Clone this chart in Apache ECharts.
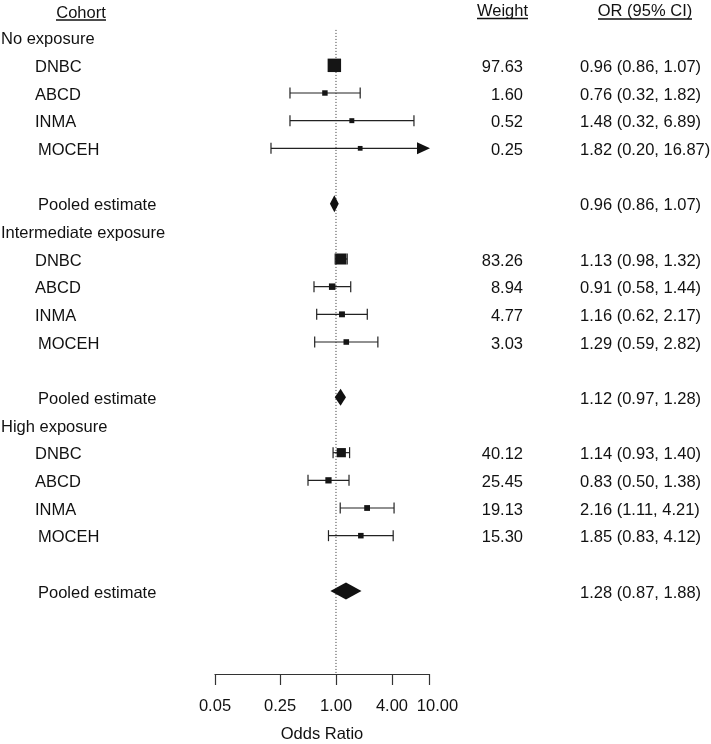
<!DOCTYPE html>
<html>
<head>
<meta charset="utf-8">
<script src="https://cdn.jsdelivr.net/npm/echarts@6/dist/echarts.min.js"></script>
<style>html,body{margin:0;padding:0;background:#fff}#c{width:711px;height:744px}</style>
</head>
<body>
<div id="c"></div>
<script>
// ---- data ----
const groups = ['No exposure', 'Intermediate exposure', 'High exposure'];
const cohorts = ['DNBC', 'ABCD', 'INMA', 'MOCEH'];
const weights = [[97.63, 1.60, 0.52, 0.25], [83.26, 8.94, 4.77, 3.03], [40.12, 25.45, 19.13, 15.30]];
const orValues = [[0.96, 0.76, 1.48, 1.82], [1.13, 0.91, 1.16, 1.29], [1.14, 0.83, 2.16, 1.85]];
const ciLow = [[0.86, 0.32, 0.32, 0.20], [0.98, 0.58, 0.62, 0.59], [0.93, 0.50, 1.11, 0.83]];
const ciHigh = [[1.07, 1.82, 6.89, 16.87], [1.32, 1.44, 2.17, 2.82], [1.40, 1.38, 4.21, 4.12]];
const pooledLabel = 'Pooled estimate';
const pooledOR = [0.96, 1.12, 1.28];
const pooledLow = [0.86, 0.97, 0.87];
const pooledHigh = [1.07, 1.28, 1.88];
const tickValues = [0.05, 0.25, 1, 4, 10];
const tickLabels = ['0.05', '0.25', '1.00', '4.00', '10.00'];
const headers = ['Cohort', 'Weight', 'OR (95% CI)'];
const axisTitle = 'Odds Ratio';

// ---- build ----
const L = Math.log10;
const XMIN = L(tickValues[0]), XMAX = L(tickValues[tickValues.length - 1]);
const FONT = "'Liberation Sans', Arial, Helvetica, sans-serif";
const FS = 16.5;
const TXT = '#111';
const fmt = v => v.toFixed(2);

const textRows = []; // {row, text, kind}
const whiskers = [];
const squares = [];
const diamonds = [];
groups.forEach((g, gi) => {
  const base = 1 + gi * 7;
  textRows.push({ row: base, text: g, kind: 'group' });
  cohorts.forEach((c, ci) => {
    const r = base + 1 + ci;
    textRows.push({ row: r, text: c, kind: c === 'MOCEH' ? 'cohort2' : 'cohort' });
    textRows.push({ row: r, text: fmt(weights[gi][ci]), kind: 'weight' });
    textRows.push({ row: r, text: fmt(orValues[gi][ci]) + ' (' + fmt(ciLow[gi][ci]) + ', ' + fmt(ciHigh[gi][ci]) + ')', kind: 'or' });
    whiskers.push([L(ciLow[gi][ci]), L(ciHigh[gi][ci]), r]);
    squares.push([L(orValues[gi][ci]), r, ciLow[gi][ci], ciHigh[gi][ci]]);
  });
  const pr = base + 6;
  textRows.push({ row: pr, text: pooledLabel, kind: 'pooled' });
  textRows.push({ row: pr, text: fmt(pooledOR[gi]) + ' (' + fmt(pooledLow[gi]) + ', ' + fmt(pooledHigh[gi]) + ')', kind: 'or' });
  diamonds.push([L(pooledLow[gi]), L(pooledOR[gi]), L(pooledHigh[gi]), pr]);
});

const textX = { group: [1, 'left'], cohort: [35, 'left'], cohort2: [38, 'left'], pooled: [38, 'left'], weight: [523, 'right'], or: [580, 'left'] };
const TEXT_DY = 2;

const chart = echarts.init(document.getElementById('c'), null, { renderer: 'canvas' });
const option = {
  backgroundColor: '#fff',
  animation: false,
  textStyle: { fontFamily: FONT },
  grid: { left: 215, right: 282, top: 10, bottom: 70, containLabel: false, outerBoundsMode: 'none' },
  xAxis: {
    type: 'value', min: XMIN, max: XMAX, position: 'bottom',
    axisLine: { show: true, onZero: false, lineStyle: { color: '#333', width: 1.2 } },
    axisTick: { show: true, length: 11, inside: false, customValues: tickValues.map(L), lineStyle: { color: '#333', width: 1.2 } },
    axisLabel: {
      customValues: tickValues.map(L), margin: 24, color: TXT, fontSize: FS, fontFamily: FONT,
      formatter: v => {
        const i = tickValues.findIndex(t => Math.abs(L(t) - v) < 1e-6);
        if (i < 0) return '';
        return i === tickValues.length - 1 ? '{r|' + tickLabels[i] + '}' : '{n|' + tickLabels[i] + '}';
      },
      rich: {
        n: { fontSize: FS, fontFamily: FONT, color: TXT },
        r: { fontSize: FS, fontFamily: FONT, color: TXT, padding: [0, 0, 0, 17] }
      }
    },
    splitLine: { show: false },
    name: axisTitle, nameLocation: 'middle', nameGap: 52,
    nameTextStyle: { fontSize: FS, fontFamily: FONT, color: TXT }
  },
  yAxis: { type: 'value', inverse: true, min: 0, max: 24, show: false },
  series: [
    {
      type: 'line', data: [[0, 0.72], [0, 24]], symbol: 'none', silent: true,
      lineStyle: { color: '#333', width: 1, type: [1, 2] }, z: 1
    },
    {
      type: 'custom', data: whiskers, encode: { x: [0, 1], y: 2 }, z: 2,
      renderItem: (params, api) => {
        const lo = api.value(0), hi = api.value(1), r = api.value(2);
        const p1 = api.coord([Math.max(lo, XMIN), r]);
        const clipped = hi > XMAX;
        const p2 = api.coord([Math.min(hi, XMAX), r]);
        const st = { stroke: '#222', lineWidth: 1.2 };
        const ch = [];
        const endX = clipped ? p2[0] - 12 : p2[0];
        ch.push({ type: 'line', shape: { x1: p1[0], y1: p1[1], x2: endX, y2: p2[1] }, style: st });
        ch.push({ type: 'line', shape: { x1: p1[0], y1: p1[1] - 5.5, x2: p1[0], y2: p1[1] + 5.5 }, style: st });
        if (clipped) {
          ch.push({ type: 'polygon', shape: { points: [[p2[0] + 1, p2[1]], [p2[0] - 12, p2[1] - 6], [p2[0] - 12, p2[1] + 6]] }, style: { fill: '#111' } });
        } else {
          ch.push({ type: 'line', shape: { x1: p2[0], y1: p2[1] - 5.5, x2: p2[0], y2: p2[1] + 5.5 }, style: st });
        }
        return { type: 'group', children: ch };
      }
    },
    {
      type: 'scatter', data: squares, encode: { x: 0, y: 1 }, symbol: 'rect', z: 3,
      symbolSize: v => 4.3 + 2 / Math.log(v[3] / v[2]),
      itemStyle: { color: '#151515', opacity: 1 }
    },
    {
      type: 'custom', data: diamonds, encode: { x: [0, 2], y: 3 }, z: 3,
      renderItem: (params, api) => {
        const r = api.value(3);
        const a = api.coord([api.value(0), r]), m = api.coord([api.value(1), r]), b = api.coord([api.value(2), r]);
        return { type: 'polygon', shape: { points: [[a[0], a[1]], [m[0], m[1] - 8.5], [b[0], b[1]], [m[0], m[1] + 8.5]] }, style: { fill: '#111' } };
      }
    },
    {
      type: 'custom', data: textRows.map(t => [XMIN, t.row]), encode: { x: 0, y: 1 }, z: 4, clip: false,
      renderItem: (params, api) => {
        const t = textRows[params.dataIndex];
        const y = api.coord([XMIN, api.value(1)])[1] + TEXT_DY;
        const [x, al] = textX[t.kind];
        return { type: 'text', x: x, y: y, style: { text: t.text, fill: TXT, font: FS + 'px ' + FONT, align: al, verticalAlign: 'middle' } };
      }
    }
  ],
  graphic: [
    { type: 'text', x: 81, y: 13, style: { text: headers[0], fill: TXT, font: FS + 'px ' + FONT, align: 'center', verticalAlign: 'middle' } },
    { type: 'line', shape: { x1: 56, y1: 20, x2: 106, y2: 20 }, style: { stroke: '#111', lineWidth: 1.3 } },
    { type: 'text', x: 502.5, y: 11.5, style: { text: headers[1], fill: TXT, font: FS + 'px ' + FONT, align: 'center', verticalAlign: 'middle' } },
    { type: 'line', shape: { x1: 477, y1: 18.5, x2: 528, y2: 18.5 }, style: { stroke: '#111', lineWidth: 1.3 } },
    { type: 'text', x: 645, y: 11.5, style: { text: headers[2], fill: TXT, font: FS + 'px ' + FONT, align: 'center', verticalAlign: 'middle' } },
    { type: 'line', shape: { x1: 598, y1: 19, x2: 692, y2: 19 }, style: { stroke: '#111', lineWidth: 1.3 } }
  ]
};
chart.setOption(option);
</script>
</body>
</html>
